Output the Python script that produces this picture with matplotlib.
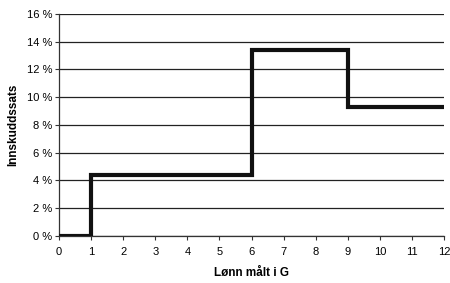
import matplotlib
matplotlib.use('Agg')
import matplotlib.pyplot as plt
from matplotlib.ticker import FuncFormatter

# step edges (lønn i G) and contribution rate (%) in each interval
edges = [0, 1, 6, 9, 12]
rates = [0.0, 4.4, 13.4, 9.3]

plt.rcParams['font.family'] = ['Liberation Sans', 'DejaVu Sans']

fig = plt.figure(figsize=(4.5, 2.83), dpi=100)
ax = fig.add_axes([0.131, 0.166, 0.856, 0.785])

ax.stairs(rates, edges, color='#111111', linewidth=3.0, baseline=None, zorder=3)

ax.set_xlim(0, 12)
ax.set_ylim(0, 16)
ax.set_xticks(range(0, 13))
ax.set_yticks(range(0, 17, 2))
ax.yaxis.set_major_formatter(FuncFormatter(lambda v, p: f'{int(v)} %'))
ax.grid(axis='y', color='#222222', linewidth=0.9)
ax.set_axisbelow(True)

for s in ['top', 'right']:
    ax.spines[s].set_visible(False)
for s in ['left', 'bottom']:
    ax.spines[s].set_color('#333333')
    ax.spines[s].set_linewidth(0.9)

ax.tick_params(labelsize=8, length=3, width=0.8, color='#333333', pad=2)
ax.tick_params(axis='x', pad=5)

ax.set_xlabel('Lønn målt i G', fontsize=8.5, fontweight='bold', labelpad=7)
ax.set_ylabel('Innskuddssats', fontsize=8.5, fontweight='bold', labelpad=5)

fig.savefig('out.png', dpi=100)
